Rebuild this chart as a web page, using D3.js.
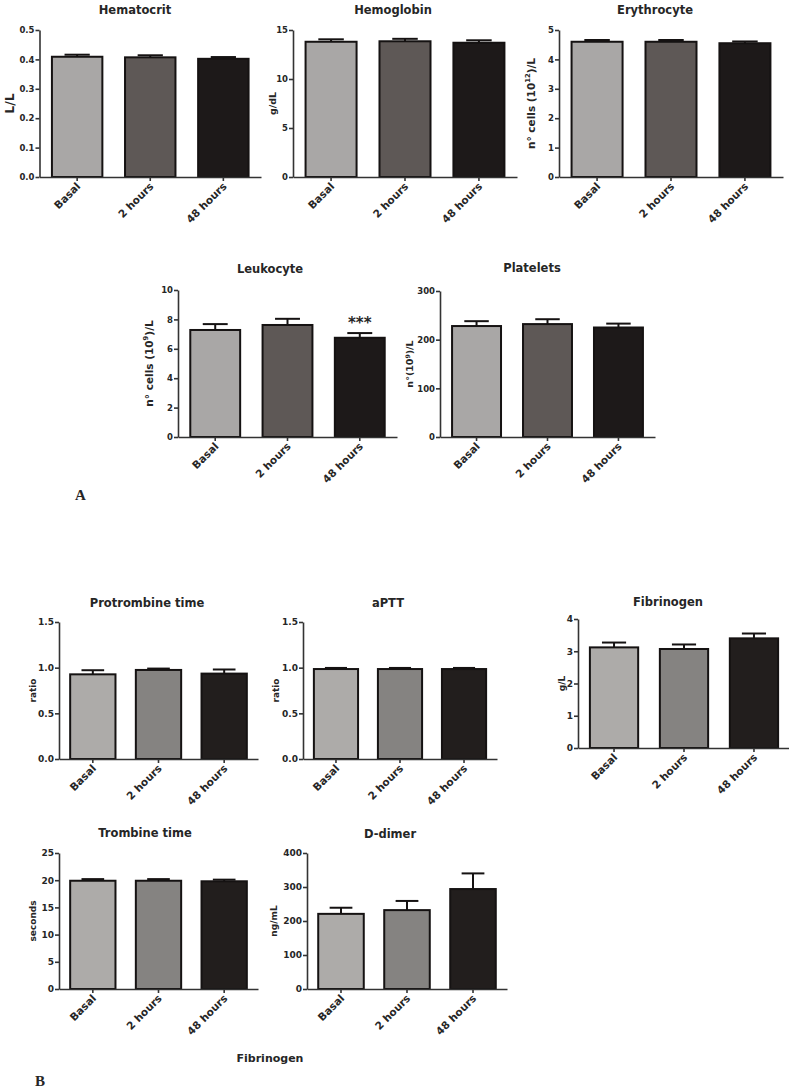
<!DOCTYPE html>
<html>
<head>
<meta charset="utf-8">
<script src="https://cdn.jsdelivr.net/npm/d3@7"></script>
<style>
  body { margin: 0; background: #fff; }
  svg { display: block; }
  text { font-family: "DejaVu Sans", sans-serif; font-weight: bold; fill: #262626; }
</style>
</head>
<body>
<div id="chart"></div>
<script>
// gruppi (asse x comune a tutti i pannelli)
var groups = ["Basal", "2 hours", "48 hours"];

// valori: media e errore
var hematocritMean = [0.409, 0.407, 0.402];
var hematocritErr  = [0.007, 0.007, 0.006];
var hematocritTicks = [0, 0.1, 0.2, 0.3, 0.4, 0.5];

var hemoglobinMean = [13.8, 13.85, 13.7];
var hemoglobinErr  = [0.25, 0.25, 0.25];
var hemoglobinTicks = [0, 5, 10, 15];

var erythrocyteMean = [4.6, 4.6, 4.55];
var erythrocyteErr  = [0.06, 0.06, 0.06];
var erythrocyteTicks = [0, 1, 2, 3, 4, 5];

var leukocyteMean = [7.28, 7.62, 6.75];
var leukocyteErr  = [0.4, 0.42, 0.32];
var leukocyteTicks = [0, 2, 4, 6, 8, 10];

var plateletsMean = [228, 232, 225];
var plateletsErr  = [10, 10, 8];
var plateletsTicks = [0, 100, 200, 300];

var protrombineMean = [0.927, 0.975, 0.935];
var protrombineErr  = [0.045, 0.015, 0.045];
var ratioTicks = [0, 0.5, 1.0, 1.5];

var apttMean = [0.985, 0.985, 0.985];
var apttErr  = [0.012, 0.012, 0.012];

var fibrinogenMean = [3.12, 3.07, 3.40];
var fibrinogenErr  = [0.15, 0.14, 0.15];
var fibrinogenTicks = [0, 1, 2, 3, 4];

var trombineMean = [19.9, 19.9, 19.8];
var trombineErr  = [0.3, 0.3, 0.3];
var trombineTicks = [0, 5, 10, 15, 20, 25];

var ddimerMean = [221, 232, 294];
var ddimerErr  = [18, 27, 46];
var ddimerTicks = [0, 100, 200, 300, 400];

// colori delle barre (riga A e riga B hanno il grigio centrale diverso)
var coloriA = ["#a9a7a6", "#5e5856", "#1d1919"];
var coloriB = ["#adaba9", "#858381", "#221e1d"];

var svg = d3.select("#chart")
            .append("svg")
            .attr("width", 789)
            .attr("height", 1089);

// impaginazione dei pannelli (solo posizioni)
var pannelli = [
  { title: "Hematocrit", mean: hematocritMean, err: hematocritErr, ticks: hematocritTicks, fmt: ".1f",
    x0: 39.5, x1: 261, yTop: 30, yBot: 177, tx: 135, ty: 14, lx: 10, label: ["L/L"], lsize: 12.5, colors: coloriA, tsize: 8.5 },
  { title: "Hemoglobin", mean: hemoglobinMean, err: hemoglobinErr, ticks: hemoglobinTicks, fmt: "d",
    x0: 293, x1: 517, yTop: 30, yBot: 177, tx: 393, ty: 14, lx: 273, label: ["g/dL"], lsize: 9.5, colors: coloriA, tsize: 8.5 },
  { title: "Erythrocyte", mean: erythrocyteMean, err: erythrocyteErr, ticks: erythrocyteTicks, fmt: "d",
    x0: 559, x1: 783, yTop: 30, yBot: 177, tx: 655, ty: 14, lx: 531, label: ["n° cells (10", "12", ")/L"], lsize: 10.5, colors: coloriA, tsize: 8.5 },
  { title: "Leukocyte", mean: leukocyteMean, err: leukocyteErr, ticks: leukocyteTicks, fmt: "d",
    x0: 178, x1: 397, yTop: 290, yBot: 437, tx: 270, ty: 273, lx: 149, label: ["n° cells (10", "9", ")/L"], lsize: 10.5, colors: coloriA, tsize: 8.5, stars: 2 },
  { title: "Platelets", mean: plateletsMean, err: plateletsErr, ticks: plateletsTicks, fmt: "d",
    x0: 440, x1: 655, yTop: 291, yBot: 437, tx: 532, ty: 272, lx: 410, label: ["n°(10", "9", ")/L"], lsize: 9.5, colors: coloriA, tsize: 8.5 },
  { title: "Protrombine time", mean: protrombineMean, err: protrombineErr, ticks: ratioTicks, fmt: ".1f",
    x0: 59, x1: 258, yTop: 622, yBot: 759, tx: 147, ty: 607, lx: 33, label: ["ratio"], lsize: 9, colors: coloriB, tsize: 9 },
  { title: "aPTT", mean: apttMean, err: apttErr, ticks: ratioTicks, fmt: ".1f",
    x0: 303, x1: 497, yTop: 622, yBot: 759, tx: 388, ty: 607, lx: 276, label: ["ratio"], lsize: 9, colors: coloriB, tsize: 9 },
  { title: "Fibrinogen", mean: fibrinogenMean, err: fibrinogenErr, ticks: fibrinogenTicks, fmt: "d",
    x0: 578, x1: 790, yTop: 619, yBot: 748, tx: 668, ty: 606, lx: 562, label: ["g/L"], lsize: 9, colors: coloriB, tsize: 9 },
  { title: "Trombine time", mean: trombineMean, err: trombineErr, ticks: trombineTicks, fmt: "d",
    x0: 59, x1: 258, yTop: 853, yBot: 989, tx: 145, ty: 837, lx: 33, label: ["seconds"], lsize: 9, colors: coloriB, tsize: 9 },
  { title: "D-dimer", mean: ddimerMean, err: ddimerErr, ticks: ddimerTicks, fmt: "d",
    x0: 307, x1: 507, yTop: 853, yBot: 989, tx: 390, ty: 838, lx: 274, label: ["ng/mL"], lsize: 9, colors: coloriB, tsize: 9 }
];

function disegnaPannello(p) {
    var g = svg.append("g");

    var x = d3.scaleBand()
              .domain(groups)
              .range([p.x0, p.x1])
              .paddingInner(0.31)
              .paddingOuter(0.17);

    var y = d3.scaleLinear()
              .domain([0, d3.max(p.ticks)])
              .range([p.yBot, p.yTop]);

    var righe = groups.map(function(d, i) {
        return { name: d, mean: p.mean[i], err: p.err[i], color: p.colors[i] };
    });

    // barre
    g.selectAll("rect")
     .data(righe)
     .enter()
     .append("rect")
     .attr("x", d => x(d.name))
     .attr("y", d => y(d.mean))
     .attr("width", x.bandwidth())
     .attr("height", d => y(0) - y(d.mean))
     .attr("fill", d => d.color)
     .attr("stroke", "#151212")
     .attr("stroke-width", 2);

    // barre d'errore (solo verso l'alto)
    var cap = x.bandwidth() * 0.25;
    var eb = g.selectAll("g.err")
              .data(righe)
              .enter()
              .append("g")
              .attr("class", "err")
              .attr("stroke", "#151212")
              .attr("stroke-width", 2);
    eb.append("line")
      .attr("x1", d => x(d.name) + x.bandwidth() / 2)
      .attr("x2", d => x(d.name) + x.bandwidth() / 2)
      .attr("y1", d => y(d.mean))
      .attr("y2", d => y(d.mean + d.err));
    eb.append("line")
      .attr("x1", d => x(d.name) + x.bandwidth() / 2 - cap)
      .attr("x2", d => x(d.name) + x.bandwidth() / 2 + cap)
      .attr("y1", d => y(d.mean + d.err))
      .attr("y2", d => y(d.mean + d.err));

    // asse y
    var yAxis = g.append("g")
                 .attr("transform", "translate(" + p.x0 + ",0)")
                 .call(d3.axisLeft(y)
                         .tickValues(p.ticks)
                         .tickFormat(d3.format(p.fmt))
                         .tickSize(4)
                         .tickPadding(1)
                         .tickSizeOuter(0));
    yAxis.select(".domain").attr("stroke", "#333").attr("stroke-width", 1.6);
    yAxis.selectAll(".tick line").attr("stroke", "#333").attr("stroke-width", 1.6);
    yAxis.selectAll(".tick text")
         .attr("font-size", p.tsize)
         .attr("font-family", "DejaVu Sans")
         .attr("font-weight", "bold")
         .attr("fill", "#2a2a2a");

    // asse x
    var xAxis = g.append("g")
                 .attr("transform", "translate(0," + p.yBot + ")")
                 .call(d3.axisBottom(x).tickSize(4).tickSizeOuter(0));
    xAxis.select(".domain").attr("stroke", "#333").attr("stroke-width", 1.6);
    xAxis.selectAll(".tick line").attr("stroke", "#333").attr("stroke-width", 1.6);
    xAxis.selectAll(".tick text")
         .attr("font-size", 10.5)
         .attr("font-family", "DejaVu Sans")
         .attr("font-weight", "bold")
         .attr("fill", "#2a2a2a")
         .attr("text-anchor", "end")
         .attr("dy", null)
         .attr("y", 0)
         .attr("transform", "translate(4,10) rotate(-45)");

    // titolo
    g.append("text")
     .attr("x", p.tx)
     .attr("y", p.ty)
     .attr("text-anchor", "middle")
     .attr("font-size", 11.5)
     .text(p.title);

    // etichetta asse y (con eventuale apice)
    var ly = (p.yTop + p.yBot) / 2;
    var lab = g.append("text")
               .attr("transform", "translate(" + p.lx + "," + ly + ") rotate(-90)")
               .attr("text-anchor", "middle")
               .attr("dy", "0.35em")
               .attr("font-size", p.lsize);
    lab.append("tspan").text(p.label[0]);
    if (p.label.length > 1) {
        lab.append("tspan")
           .attr("font-size", p.lsize * 0.65)
           .attr("dy", -p.lsize * 0.4)
           .text(p.label[1]);
        lab.append("tspan")
           .attr("dy", p.lsize * 0.4)
           .text(p.label[2]);
    }

    // significatività
    if (p.stars != null) {
        var s = righe[p.stars];
        g.append("text")
         .attr("x", x(s.name) + x.bandwidth() / 2)
         .attr("y", y(s.mean + s.err) - 5)
         .attr("text-anchor", "middle")
         .attr("font-size", 15)
         .text("***");
    }
}

pannelli.forEach(disegnaPannello);

// lettere dei riquadri e testo isolato
svg.append("text")
   .attr("x", 75).attr("y", 500)
   .style("font-family", "'Liberation Serif', serif")
   .attr("font-size", 15)
   .attr("fill", "#111")
   .text("A");

svg.append("text")
   .attr("x", 35).attr("y", 1086)
   .style("font-family", "'Liberation Serif', serif")
   .attr("font-size", 15)
   .attr("fill", "#111")
   .text("B");

svg.append("text")
   .attr("x", 270).attr("y", 1062)
   .attr("text-anchor", "middle")
   .attr("font-size", 11)
   .attr("fill", "#3c3c3c")
   .text("Fibrinogen");
</script>
</body>
</html>
